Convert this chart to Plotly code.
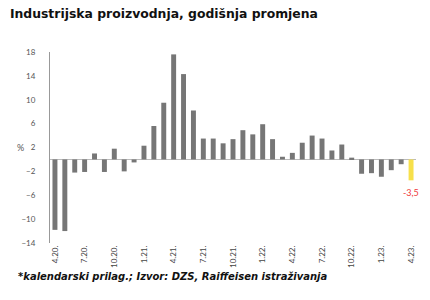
import plotly.graph_objects as go

months = ["4.20.", "5.20.", "6.20.", "7.20.", "8.20.", "9.20.", "10.20.", "11.20.", "12.20.",
          "1.21.", "2.21.", "3.21.", "4.21.", "5.21.", "6.21.", "7.21.", "8.21.", "9.21.",
          "10.21.", "11.21.", "12.21.", "1.22.", "2.22.", "3.22.", "4.22.", "5.22.", "6.22.",
          "7.22.", "8.22.", "9.22.", "10.22.", "11.22.", "12.22.", "1.23.", "2.23.", "3.23.", "4.23."]
values = [-11.8, -12.0, -2.2, -2.1, 1.0, -2.1, 1.8, -2.0, -0.5,
          2.3, 5.6, 9.5, 17.6, 14.3, 8.2, 3.5, 3.5, 2.7,
          3.4, 4.9, 4.2, 5.9, 3.4, 0.45, 1.1, 2.8, 4.0,
          3.5, 1.5, 2.5, 0.3, -2.4, -2.3, -2.9, -1.8, -0.8, -3.5]
tick_labels = months[::3]
y_ticks = [-14, -10, -6, -2, 2, 6, 10, 14, 18]

colors = ["#767676"] * (len(values) - 1) + ["#F7E04B"]

fig = go.Figure()
fig.add_trace(go.Bar(x=months, y=values, marker_color=colors, marker_line_width=0,
                     hoverinfo="skip"))

fig.add_annotation(x=months[-1], y=values[-1], text="-3,5", showarrow=False,
                   yshift=-12, font=dict(family="Lato", size=9, color="#F03A3A"))
fig.add_annotation(xref="paper", yref="paper", x=-0.095, y=(2 + 14) / 32, text="%",
                   showarrow=False, font=dict(family="Lato", size=9, color="#555555"))

fig.update_layout(
    width=430, height=300,
    margin=dict(l=50, r=14, t=52, b=57),
    plot_bgcolor="white", paper_bgcolor="white",
    bargap=0.5, showlegend=False,
    title=dict(text="<b>Industrijska proizvodnja, godišnja promjena</b>",
               x=0.023, xanchor="left", y=0.955, yanchor="middle",
               font=dict(family="DejaVu Sans", size=12.4, color="#111111")),
)
fig.update_xaxes(type="category", tickmode="array", tickvals=tick_labels, ticktext=tick_labels,
                 tickangle=-90, tickfont=dict(family="Lato", size=8, color="#444444"),
                 showgrid=False, showline=False, ticks="", range=[-0.5, len(values) - 0.5])
fig.update_yaxes(range=[-14, 18], tickmode="array", tickvals=y_ticks,
                 tickfont=dict(family="Lato", size=8, color="#555555"),
                 showgrid=False, showline=True, linecolor="#999999", linewidth=1,
                 zeroline=True, zerolinecolor="#bbbbbb", zerolinewidth=1,
                 ticks="", ticklabelstandoff=12)
fig.add_annotation(xref="paper", yref="paper", x=-0.093, y=-0.175, xanchor="left", yanchor="middle",
                   text="<b><i>*kalendarski prilag.; Izvor: DZS, Raiffeisen istraživanja</i></b>",
                   showarrow=False, font=dict(family="DejaVu Sans", size=10, color="#111111"))

fig.write_html("out.html")
